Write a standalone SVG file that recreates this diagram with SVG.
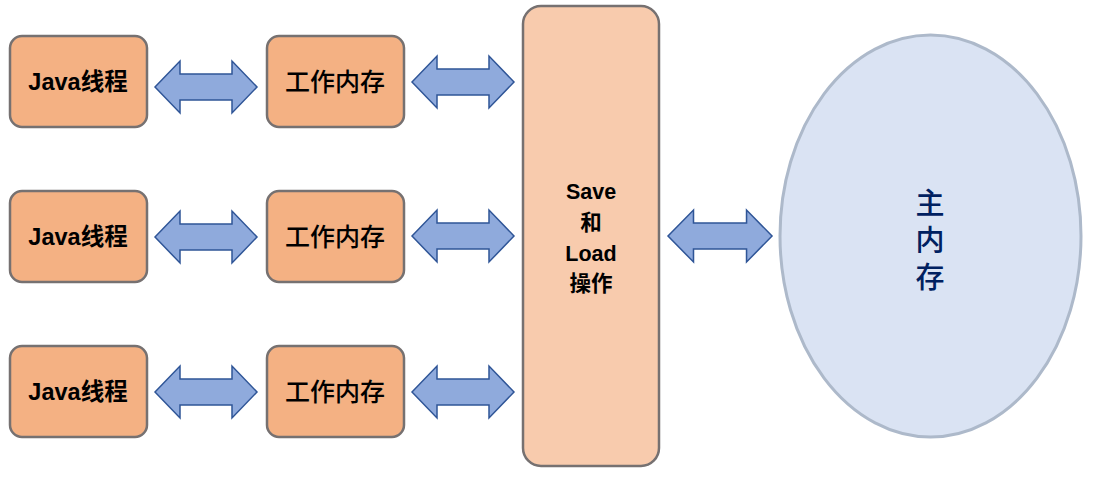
<svg xmlns="http://www.w3.org/2000/svg" width="1102" height="478" viewBox="0 0 1102 478">
<defs>
<style>
.box{fill:#F4B183;stroke:#767171;stroke-width:2.5}
.save{fill:#F8CBAD;stroke:#767171;stroke-width:2.5}
.mem{fill:#DAE3F3;stroke:#ADB9CA;stroke-width:3}
.arr{fill:#8FAADC;stroke:#2F5597;stroke-width:1.5;stroke-linejoin:miter}
.t{font-family:"Liberation Sans","Noto Sans CJK SC",sans-serif;font-weight:bold;fill:#000;text-anchor:middle;dominant-baseline:central}
.tj{font-size:23.5px}
.tw{font-size:25px;font-weight:500}
.ts{font-size:21.5px}
.tm{font-family:"Noto Sans CJK SC",sans-serif;font-size:29px;font-weight:500;fill:#002060;text-anchor:middle;writing-mode:vertical-rl;letter-spacing:8px}
</style>
<path id="a" d="M0,0 L25,-26 L25,-13 L77,-13 L77,-26 L102,0 L77,26 L77,13 L25,13 L25,26 Z"/>
</defs>
<rect width="1102" height="478" fill="#fff"/>
<g id="connectors">
<use href="#a" class="arr" transform="translate(155,87)"/>
<use href="#a" class="arr" transform="translate(155,237)"/>
<use href="#a" class="arr" transform="translate(155,392)"/>
<use href="#a" class="arr" transform="translate(412,82)"/>
<use href="#a" class="arr" transform="translate(412,236)"/>
<use href="#a" class="arr" transform="translate(412,392)"/>
<use href="#a" class="arr" transform="translate(668,236) scale(1.02,1)"/>
</g>
<g id="java1"><rect class="box" x="10" y="36" width="137" height="91" rx="12"/><text class="t tj" x="78" y="82">Java线程</text></g>
<g id="java2"><rect class="box" x="10" y="191" width="137" height="91" rx="12"/><text class="t tj" x="78" y="237">Java线程</text></g>
<g id="java3"><rect class="box" x="10" y="346" width="137" height="91" rx="12"/><text class="t tj" x="78" y="392">Java线程</text></g>
<g id="work1"><rect class="box" x="267" y="36" width="137" height="91" rx="12"/><text class="t tw" x="335" y="82">工作内存</text></g>
<g id="work2"><rect class="box" x="267" y="191" width="137" height="91" rx="12"/><text class="t tw" x="335" y="237">工作内存</text></g>
<g id="work3"><rect class="box" x="267" y="346" width="137" height="91" rx="12"/><text class="t tw" x="335" y="392">工作内存</text></g>
<g id="saveload"><rect class="save" x="523" y="6" width="136" height="460" rx="18"/>
<text class="t ts" x="591" y="192">Save</text>
<text class="t ts" x="591" y="223">和</text>
<text class="t ts" x="591" y="254">Load</text>
<text class="t ts" x="591" y="284">操作</text></g>
<g id="mainmem"><ellipse class="mem" cx="930.5" cy="236" rx="150.5" ry="201"/>
<text class="tm" x="930" y="244">主内存</text></g>
</svg>
